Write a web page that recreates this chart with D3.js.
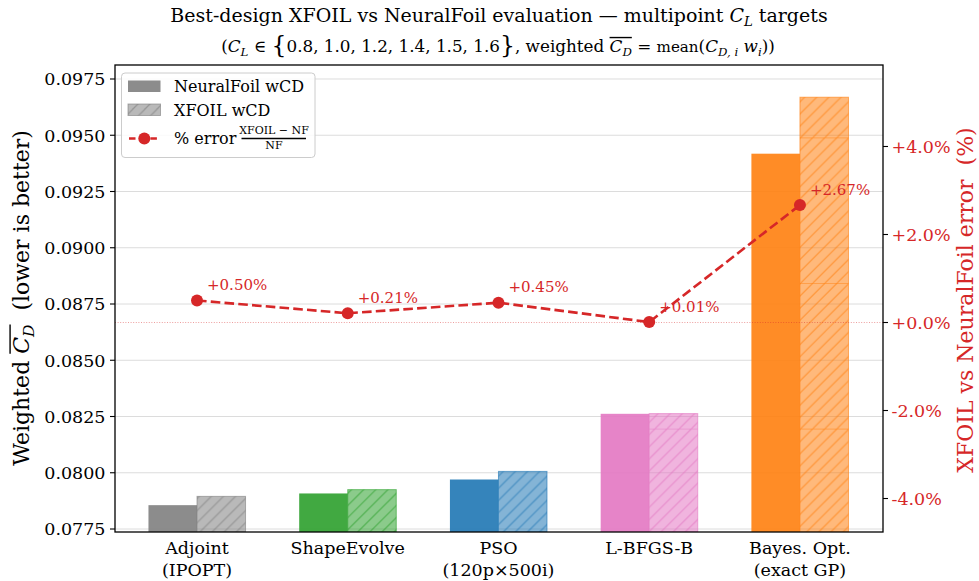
<!DOCTYPE html>
<html><head><meta charset="utf-8">
<script src="https://cdn.jsdelivr.net/npm/d3@7"></script>
<style>
body{margin:0;background:#fff;}
svg{display:block;font-family:"DejaVu Serif",serif;}
text{white-space:pre;}
</style></head><body>
<svg id="c" width="979" height="581"></svg>
<script>
const categoryLines = [["Adjoint","(IPOPT)"],["ShapeEvolve"],["PSO","(120p×500i)"],["L-BFGS-B"],["Bayes. Opt.","(exact GP)"]];
const neuralFoilWCD = [0.07856, 0.07908, 0.07970, 0.08262, 0.09418];
const xfoilWCD      = [0.07895, 0.07925, 0.08006, 0.08263, 0.09669];
const errorPct      = [0.50, 0.21, 0.45, 0.01, 2.67];
const barColors     = ["#7f7f7f","#2ca02c","#1f77b4","#e377c2","#ff7f0e"];
const leftTicks     = [0.0775,0.0800,0.0825,0.0850,0.0875,0.0900,0.0925,0.0950,0.0975];
const rightTicks    = [-4,-2,0,2,4];

const RED = "#d62728";
const m = {l:115, r:883, t:65, b:532};
const svg = d3.select('#c');
const x  = d3.scaleLinear().domain([-0.544, 4.551]).range([m.l, m.r]);
const y  = d3.scaleLinear().domain([0.077367, 0.098122]).range([m.b, m.t]);
const y2 = d3.scaleLinear().domain([-4.761, 5.852]).range([m.b, m.t]);
const bw = 0.322;

// rich text helper
function rich(parent, segs, base, anchor, yb, color) {
  const g = parent.append('g');
  let cx = 0; const ol = {};
  const nodes = [];
  segs.forEach(s => {
    const fs = base * (s.sz || 1);
    const t = g.append('text').attr('y', yb + (s.dy || 0) * base)
      .style('font-size', fs + 'px')
      .style('font-style', s.it ? 'italic' : 'normal')
      .attr('fill', color || '#000')
      .text(s.t);
    const w = t.node().getComputedTextLength();
    nodes.push([t, cx]);
    if (s.ol) { ol[s.ol] = ol[s.ol] || [cx, cx]; ol[s.ol][1] = cx + w; }
    cx += w;
  });
  const off = anchor === 'middle' ? -cx / 2 : (anchor === 'end' ? -cx : 0);
  nodes.forEach(([t, px]) => t.attr('x', px + off));
  Object.values(ol).forEach(([a, b]) => {
    g.append('line').attr('x1', a + off).attr('x2', b + off)
      .attr('y1', yb - base * 0.86).attr('y2', yb - base * 0.86)
      .attr('stroke', color || '#000').attr('stroke-width', 1.4);
  });
  return g;
}

// defs: hatch patterns
const defs = svg.append('defs');
const S = 145.6, NL = 12;
barColors.forEach((c, i) => {
  const p = defs.append('pattern').attr('id', 'h' + i)
    .attr('patternUnits', 'userSpaceOnUse').attr('width', S).attr('height', S)
    .attr('patternTransform', 'translate(0,137.4)');
  for (let k = -NL; k <= NL; k++) {
    const a = k * S / NL;
    p.append('line').attr('x1', a).attr('y1', S).attr('x2', a + S).attr('y2', 0)
      .attr('stroke', c).attr('stroke-opacity', 0.6).attr('stroke-width', 1.2);
  }
  p.append('line').attr('x1', 0).attr('x2', S).attr('y1', 0.5).attr('y2', 0.5)
    .attr('stroke', c).attr('stroke-opacity', 0.45).attr('stroke-width', 1);
});
// small legend hatch
defs.append('pattern').attr('id', 'hl').attr('patternUnits', 'userSpaceOnUse')
  .attr('width', 12.1).attr('height', 12.1)
  .call(p => { p.append('line').attr('x1', 0).attr('y1', 12.1).attr('x2', 12.1).attr('y2', 0)
    .attr('stroke', '#7f7f7f').attr('stroke-opacity', 0.6).attr('stroke-width', 1.2);
    p.append('line').attr('x1', -6).attr('y1', 6).attr('x2', 6).attr('y2', -6)
    .attr('stroke', '#7f7f7f').attr('stroke-opacity', 0.6).attr('stroke-width', 1.2);
    p.append('line').attr('x1', 6).attr('y1', 18).attr('x2', 18).attr('y2', 6)
    .attr('stroke', '#7f7f7f').attr('stroke-opacity', 0.6).attr('stroke-width', 1.2); });
defs.append('clipPath').attr('id', 'clip').append('rect')
  .attr('x', m.l).attr('y', m.t).attr('width', m.r - m.l).attr('height', m.b - m.t);

// grid
svg.append('g').selectAll('line').data(leftTicks).join('line')
  .attr('x1', m.l).attr('x2', m.r).attr('y1', d => y(d)).attr('y2', d => y(d))
  .attr('stroke', '#dcdcdc').attr('stroke-width', 1);

// bars
const bars = svg.append('g').attr('clip-path', 'url(#clip)');
neuralFoilWCD.forEach((v, i) => {
  bars.append('rect').attr('x', x(i - bw)).attr('width', x(bw) - x(0))
    .attr('y', y(v)).attr('height', m.b - y(v))
    .attr('fill', barColors[i]).attr('fill-opacity', 0.9);
});
xfoilWCD.forEach((v, i) => {
  const w = x(bw) - x(0);
  bars.append('rect').attr('x', x(i)).attr('width', w)
    .attr('y', y(v)).attr('height', m.b - y(v))
    .attr('fill', barColors[i]).attr('fill-opacity', 0.55);
  bars.append('rect').attr('x', x(i)).attr('width', w)
    .attr('y', y(v)).attr('height', m.b - y(v))
    .attr('fill', 'url(#h' + i + ')')
    .attr('stroke', barColors[i]).attr('stroke-opacity', 0.6).attr('stroke-width', 1);
});

// zero line (right axis)
svg.append('line').attr('x1', m.l).attr('x2', m.r).attr('y1', y2(0)).attr('y2', y2(0))
  .attr('stroke', RED).attr('stroke-opacity', 0.5).attr('stroke-width', 0.9)
  .attr('stroke-dasharray', '1,1.6');

// error line
svg.append('path').datum(errorPct)
  .attr('d', d3.line().x((d, i) => x(i)).y(d => y2(d)))
  .attr('fill', 'none').attr('stroke', RED).attr('stroke-width', 2.6)
  .attr('stroke-dasharray', '9.6,4.2');
svg.append('g').selectAll('circle').data(errorPct).join('circle')
  .attr('cx', (d, i) => x(i)).attr('cy', d => y2(d)).attr('r', 6).attr('fill', RED);
svg.append('g').selectAll('text').data(errorPct).join('text')
  .attr('x', (d, i) => x(i) + 10).attr('y', d => y2(d) - 10.5)
  .attr('fill', RED).style('font-size', '15px')
  .text(d => (d >= 0 ? '+' : '-') + Math.abs(d).toFixed(2) + '%');

// frame
svg.append('rect').attr('x', m.l).attr('y', m.t).attr('width', m.r - m.l).attr('height', m.b - m.t)
  .attr('fill', 'none').attr('stroke', '#000').attr('stroke-width', 1.3);

// left axis
const la = svg.append('g');
leftTicks.forEach(t => {
  la.append('line').attr('x1', m.l - 5).attr('x2', m.l).attr('y1', y(t)).attr('y2', y(t)).attr('stroke', '#000').attr('stroke-width', 1.1);
  la.append('text').attr('x', m.l - 9.5).attr('y', y(t)).attr('dy', '0.36em')
    .attr('text-anchor', 'end').style('font-size', '17.5px').text(d3.format('.4f')(t));
});
// right axis
const ra = svg.append('g');
rightTicks.forEach(t => {
  ra.append('line').attr('x1', m.r).attr('x2', m.r + 5).attr('y1', y2(t)).attr('y2', y2(t)).attr('stroke', '#000').attr('stroke-width', 1.1);
  ra.append('text').attr('x', m.r + 8.5).attr('y', y2(t)).attr('dy', '0.36em')
    .attr('fill', RED).style('font-size', '17.5px')
    .text((t >= 0 ? '+' : '-') + Math.abs(t).toFixed(1) + '%');
});
// x labels
categoryLines.forEach((lines, i) => {
  lines.forEach((s, j) => {
    svg.append('text').attr('x', x(i)).attr('y', 554 + j * 21.5).attr('text-anchor', 'middle')
      .style('font-size', '17.5px').text(s);
  });
});

// axis titles
const yl = svg.append('g').attr('transform', 'translate(29,298) rotate(-90)');
rich(yl, [
  {t: 'Weighted '}, {t: 'C', it: 1, ol: 'a'}, {t: 'D', it: 1, sz: 0.7, dy: 0.22, ol: 'a'},
  {t: '  (lower is better)'}
], 22, 'middle', 0);
const yr = svg.append('g').attr('transform', 'translate(973,300) rotate(-90)');
rich(yr, [{t: 'XFOIL vs NeuralFoil error  (%)'}], 22, 'middle', 0, RED);

// title
rich(svg, [
  {t: 'Best-design XFOIL vs NeuralFoil evaluation — multipoint '},
  {t: 'C', it: 1}, {t: 'L', it: 1, sz: 0.7, dy: 0.22}, {t: ' targets'}
], 19, 'middle', 22).attr('transform', 'translate(499,0)');
rich(svg, [
  {t: '('}, {t: 'C', it: 1}, {t: 'L', it: 1, sz: 0.7, dy: 0.22}, {t: ' ∈ '},
  {t: '{', sz: 1.4, dy: 0.08}, {t: '0.8, 1.0, 1.2, 1.4, 1.5, 1.6'}, {t: '}', sz: 1.4, dy: 0.08},
  {t: ', weighted '}, {t: 'C', it: 1, ol: 'b'}, {t: 'D', it: 1, sz: 0.7, dy: 0.22, ol: 'b'},
  {t: ' = '}, {t: 'mean', sz: 0.9}, {t: '('}, {t: 'C', it: 1}, {t: 'D, i', it: 1, sz: 0.7, dy: 0.22},
  {t: ' '}, {t: 'w', it: 1}, {t: 'i', it: 1, sz: 0.7, dy: 0.22}, {t: '))'}
], 16.8, 'middle', 52).attr('transform', 'translate(498,0)');

// legend
const lg = svg.append('g');
lg.append('rect').attr('x', 121.5).attr('y', 73).attr('width', 193.5).attr('height', 84.5)
  .attr('rx', 3.5).attr('fill', '#fff').attr('fill-opacity', 0.85)
  .attr('stroke', '#cccccc').attr('stroke-width', 1);
lg.append('rect').attr('x', 128).attr('y', 80.5).attr('width', 32.5).attr('height', 11.5)
  .attr('fill', '#7f7f7f').attr('fill-opacity', 0.9);
lg.append('text').attr('x', 174).attr('y', 92).style('font-size', '16px').text('NeuralFoil wCD');
lg.append('rect').attr('x', 128).attr('y', 104).attr('width', 32.5).attr('height', 11.5)
  .attr('fill', '#7f7f7f').attr('fill-opacity', 0.55);
lg.append('rect').attr('x', 128).attr('y', 104).attr('width', 32.5).attr('height', 11.5)
  .attr('fill', 'url(#hl)').attr('stroke', '#7f7f7f').attr('stroke-opacity', 0.6);
lg.append('text').attr('x', 174).attr('y', 115.5).style('font-size', '16px').text('XFOIL wCD');
lg.append('line').attr('x1', 128).attr('x2', 160.5).attr('y1', 138.5).attr('y2', 138.5)
  .attr('stroke', RED).attr('stroke-width', 2.6).attr('stroke-dasharray', '6.5,4.2')
  .attr('stroke-dashoffset', -1);
lg.append('circle').attr('cx', 144.3).attr('cy', 138.5).attr('r', 6).attr('fill', RED);
lg.append('text').attr('x', 174).attr('y', 143.5).style('font-size', '16px').text('% error');
lg.append('text').attr('x', 274).attr('y', 133.5).attr('text-anchor', 'middle').style('font-size', '11px').text('XFOIL − NF');
lg.append('line').attr('x1', 241.5).attr('x2', 306).attr('y1', 138.5).attr('y2', 138.5).attr('stroke', '#000').attr('stroke-width', 1.5);
lg.append('text').attr('x', 274).attr('y', 148.5).attr('text-anchor', 'middle').style('font-size', '11px').text('NF');
</script>
</body></html>
